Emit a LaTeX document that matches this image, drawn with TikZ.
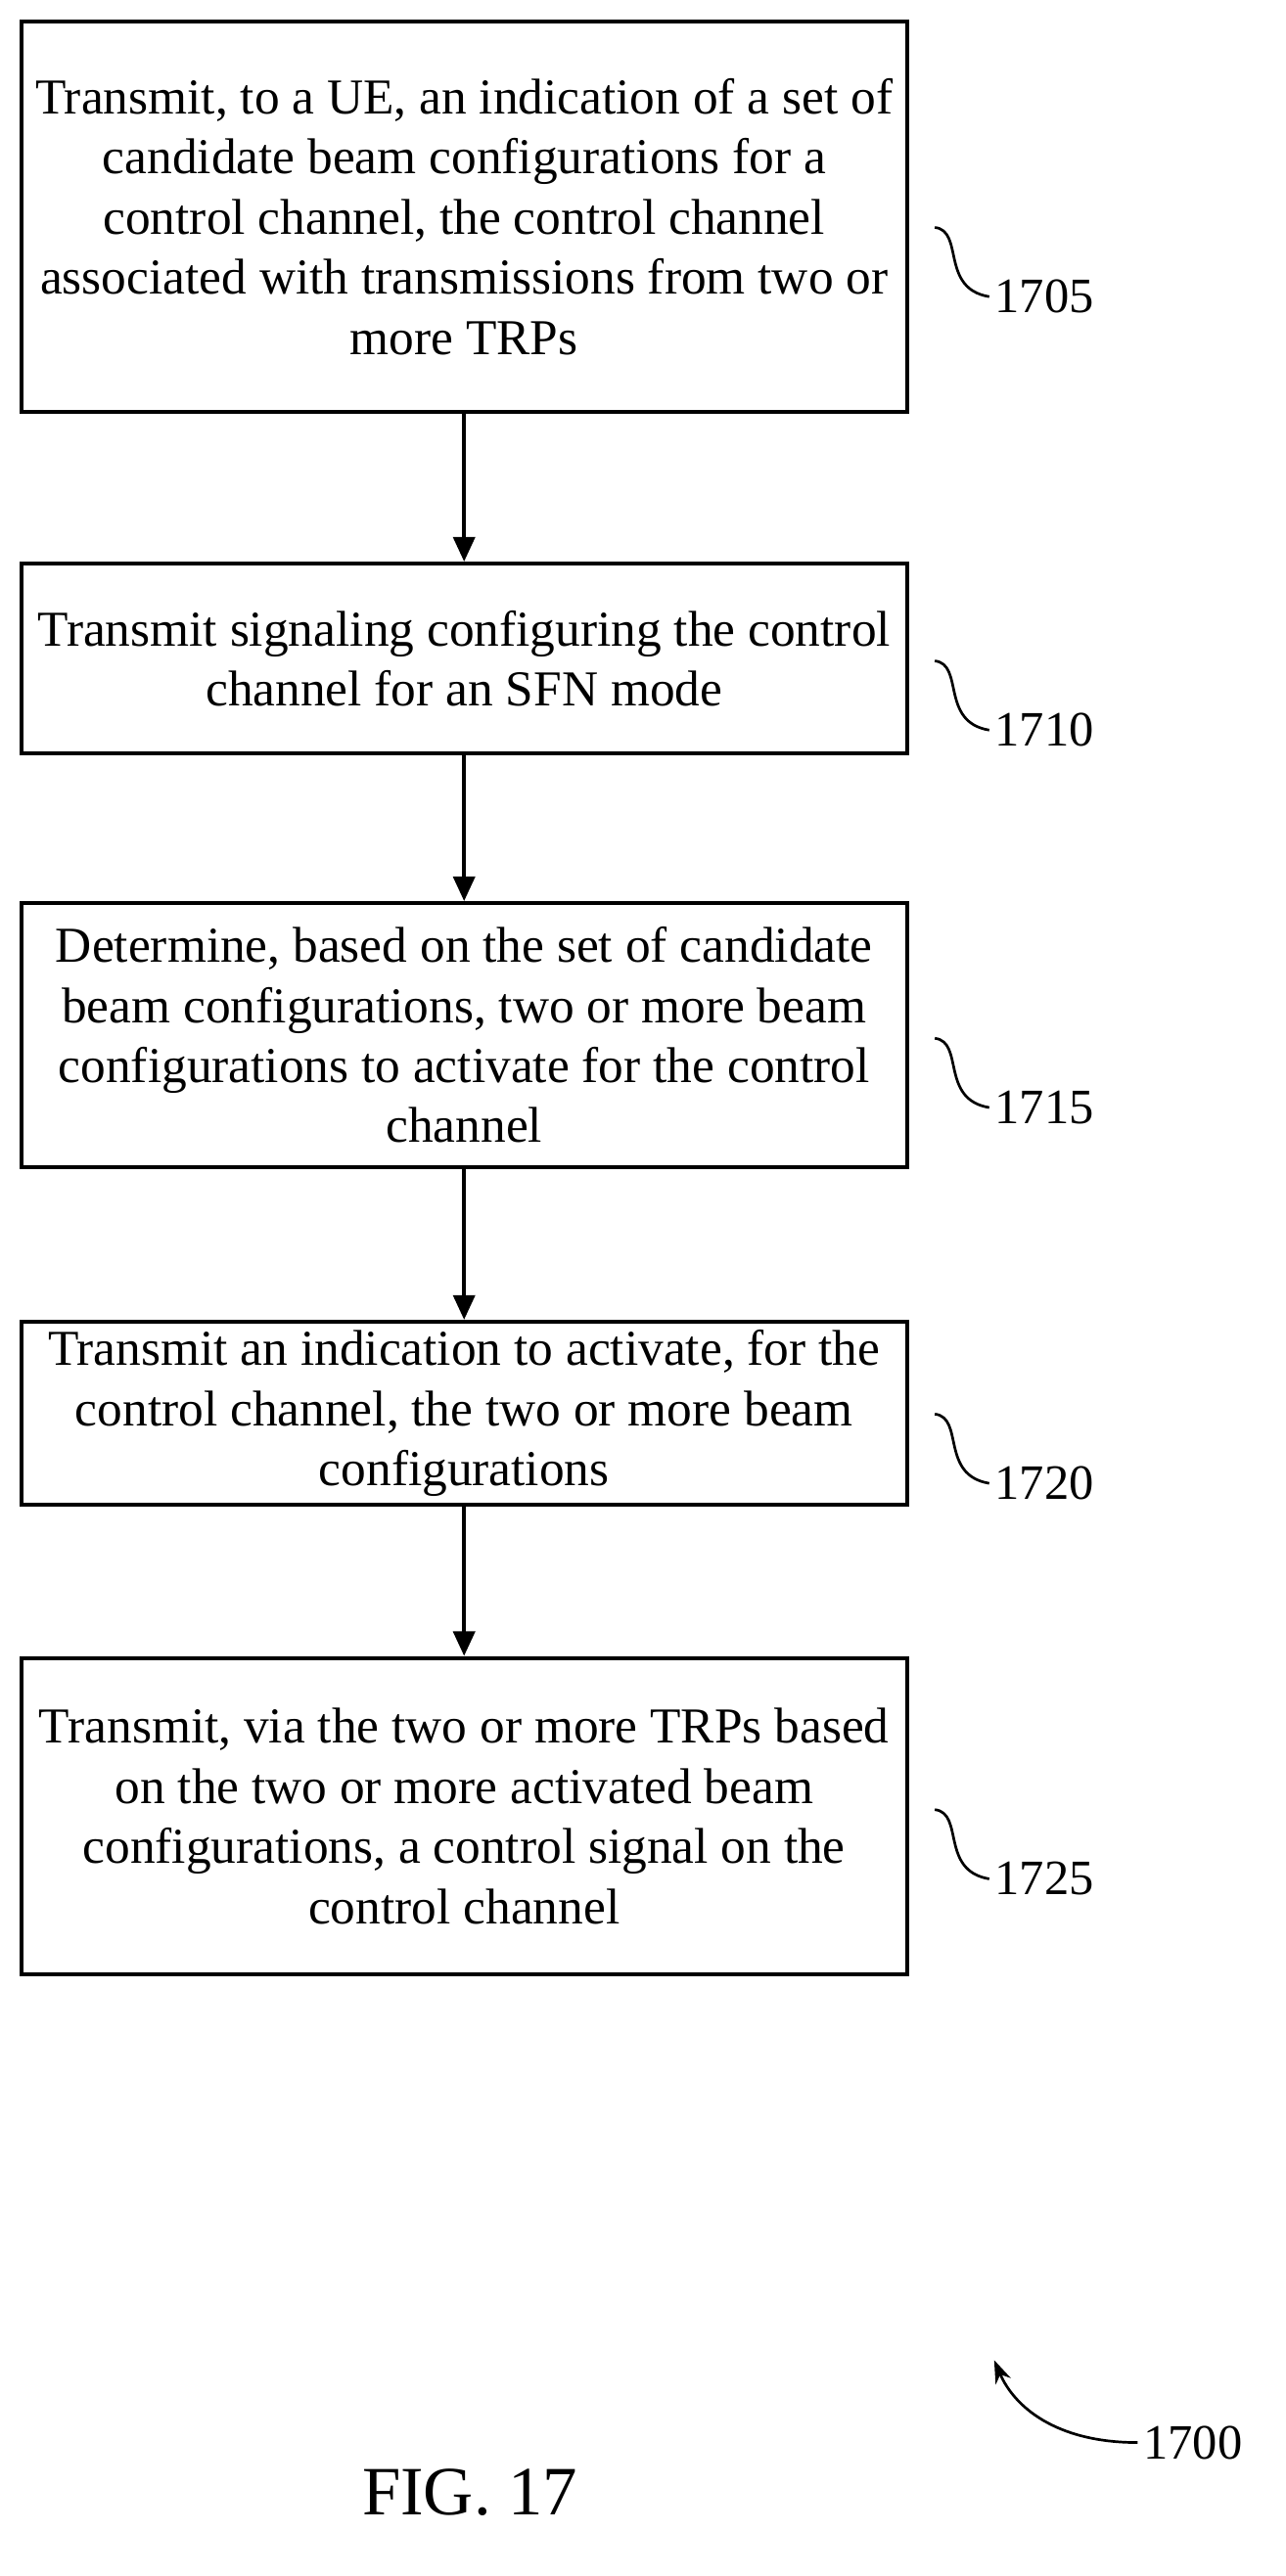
\documentclass[tikz,border=0pt]{standalone}
\usepackage{fontspec}
\setmainfont{Liberation Serif}
\usetikzlibrary{arrows.meta}
\tikzset{
  stepbox/.style={draw,line width=2.4pt,minimum width=537pt,align=center,
    font=\fontsize{30.5}{36.5}\selectfont,inner sep=0pt},
  flow/.style={line width=2.6pt,-{Triangle[length=15pt,width=13pt]}},
  tag/.style={font=\fontsize{30}{34}\selectfont},
  squig/.style={line width=1.6pt}
}
\begin{document}
\begin{tikzpicture}[x=1pt,y=-1pt]
  \useasboundingbox (0,0) rectangle (780,1563);

  \node[stepbox,minimum height=237pt] (s1) at (281.5,131.5) {Transmit, to a UE, an indication of a set of\\candidate beam configurations for a\\control channel, the control channel\\associated with transmissions from two or\\more TRPs};
  \node[stepbox,minimum height=115pt] (s2) at (281.5,399.5) {Transmit signaling configuring the control\\channel for an SFN mode};
  \node[stepbox,minimum height=160pt] (s3) at (281.5,628) {Determine, based on the set of candidate\\beam configurations, two or more beam\\configurations to activate for the control\\channel};
  \node[stepbox,minimum height=111pt] (s4) at (281.5,857.5) {Transmit an indication to activate, for the\\control channel, the two or more beam\\configurations};
  \node[stepbox,minimum height=192pt] (s5) at (281.5,1102) {Transmit, via the two or more TRPs based\\on the two or more activated beam\\configurations, a control signal on the\\control channel};

  \draw[flow] (s1) -- (s2);
  \draw[flow] (s2) -- (s3);
  \draw[flow] (s3) -- (s4);
  \draw[flow] (s4) -- (s5);

  % reference numerals
  \foreach \n/\y in {1705/180,1710/443,1715/672,1720/900,1725/1140}
  {
    \node[tag,anchor=west] (t\n) at (600,\y) {\n};
    \draw[squig] (567,\y-42) .. controls (585,\y-40) and (570,\y-5) .. (t\n.west);
  }

  \node[tag,anchor=west] (t1700) at (690,1482) {1700};
  \coordinate (fig) at (603,1432);
  \draw[squig,-{Stealth[length=14pt,width=10pt]}] (t1700.west) .. controls (640,1482) and (615,1460) .. (fig);

  \node[font=\fontsize{42}{46}\selectfont] (caption) at (285,1512) {FIG. 17};
\end{tikzpicture}
\end{document}
